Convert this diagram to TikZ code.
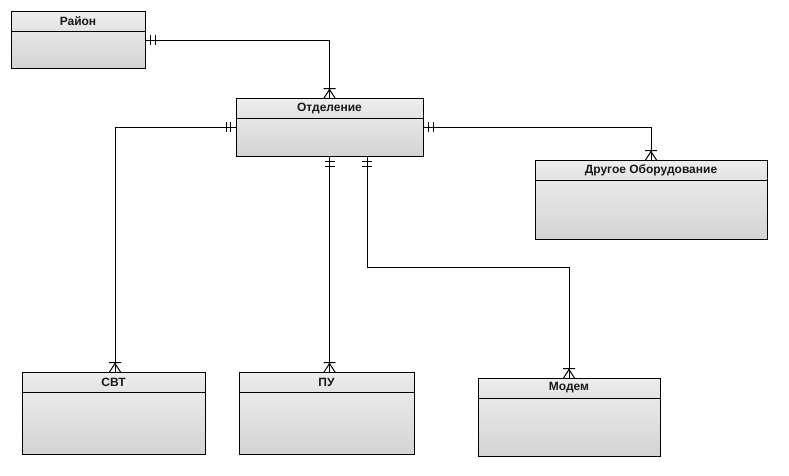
\documentclass[tikz,border=0pt]{standalone}
\usepackage{fontspec}
\setmainfont{Liberation Sans}
\usetikzlibrary{calc}

% ER line ends: crow's foot with a bar (many) and two bars (exactly one)
\pgfdeclarearrow{
  name = crowfoot,
  setup code = {
    \pgfarrowssettipend{0pt}
    \pgfarrowssetlineend{0pt}
    \pgfarrowssetbackend{-10pt}
    \pgfarrowsupperhullpoint{0pt}{6pt}
    \pgfarrowsupperhullpoint{-10pt}{6pt}
  },
  drawing code = {
    \pgfpathmoveto{\pgfpoint{-8.5pt}{0pt}}
    \pgfpathlineto{\pgfpoint{0pt}{5.5pt}}
    \pgfpathmoveto{\pgfpoint{-8.5pt}{0pt}}
    \pgfpathlineto{\pgfpoint{0pt}{-5.5pt}}
    \pgfpathmoveto{\pgfpoint{-9.5pt}{6pt}}
    \pgfpathlineto{\pgfpoint{-9.5pt}{-6pt}}
    \pgfusepathqstroke
  }
}
\pgfdeclarearrow{
  name = onebars,
  setup code = {
    \pgfarrowssettipend{0pt}
    \pgfarrowssetlineend{0pt}
    \pgfarrowssetbackend{-11pt}
    \pgfarrowsupperhullpoint{0pt}{5pt}
    \pgfarrowsupperhullpoint{-11pt}{5pt}
  },
  drawing code = {
    \pgfpathmoveto{\pgfpoint{-5.5pt}{5pt}}
    \pgfpathlineto{\pgfpoint{-5.5pt}{-5pt}}
    \pgfpathmoveto{\pgfpoint{-10pt}{5pt}}
    \pgfpathlineto{\pgfpoint{-10pt}{-5pt}}
    \pgfusepathqstroke
  }
}

\tikzset{
  entity/.style={draw=black, line width=1pt, rectangle, anchor=north west,
    inner sep=0pt, outer sep=0pt,
    top color=black!6, bottom color=black!17},
  header/.style={draw=black, line width=1pt, rectangle, anchor=north west,
    inner sep=0pt, outer sep=0pt, minimum height=20pt,
    top color=black!7, bottom color=black!11,
    font=\fontsize{12}{14}\selectfont\bfseries, text=black!90},
  rel/.style={draw=black, line width=1pt, {onebars}-{crowfoot}}
}

\begin{document}
\begin{tikzpicture}[x=1pt, y=-1pt]
  \useasboundingbox[fill=white] (0,0) rectangle (789,475);

  % entities: shaded body with a title bar on top
  \node[entity, minimum width=134pt, minimum height=57pt] (rayon) at (11,11) {};
  \node[header, minimum width=134pt] (rayon-h) at (rayon.north west) {Район};

  \node[entity, minimum width=187pt, minimum height=58pt] (otd) at (236,98) {};
  \node[header, minimum width=187pt] (otd-h) at (otd.north west) {Отделение};

  \node[entity, minimum width=232pt, minimum height=79pt] (drug) at (535,160) {};
  \node[header, minimum width=232pt] (drug-h) at (drug.north west) {Другое Оборудование};

  \node[entity, minimum width=183pt, minimum height=82pt] (svt) at (22,372) {};
  \node[header, minimum width=183pt] (svt-h) at (svt.north west) {СВТ};

  \node[entity, minimum width=175pt, minimum height=82pt] (pu) at (239,372) {};
  \node[header, minimum width=175pt] (pu-h) at (pu.north west) {ПУ};

  \node[entity, minimum width=182pt, minimum height=78pt] (modem) at (478,378) {};
  \node[header, minimum width=182pt] (modem-h) at (modem.north west) {Модем};

  % relationships
  \draw[rel] ([yshift=-29pt]rayon.north east) -| (otd.north);
  \draw[rel] ([yshift=-29pt]otd.north west) -| ([xshift=1.5pt]svt.north);
  \draw[rel] ([yshift=-29pt]otd.north east) -| (drug.north);
  \draw[rel] (otd.south) -- (otd.south |- pu.north);
  \coordinate (mbend) at (367,267);
  \draw[rel] (otd.south -| mbend) -- (mbend) -| (modem.north);
\end{tikzpicture}
\end{document}
